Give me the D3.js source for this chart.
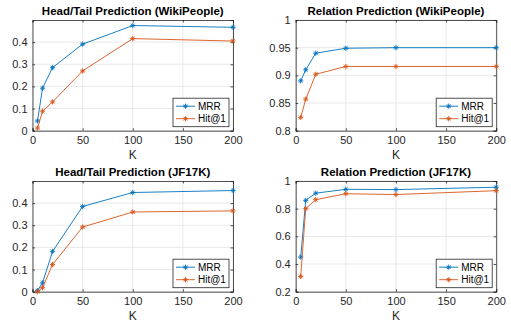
<!DOCTYPE html>
<html>
<head>
<meta charset="utf-8">
<script src="https://cdn.jsdelivr.net/npm/d3@7"></script>
<style>
  body { margin: 0; background: #fff; }
  text { font-family: "Liberation Sans", Arial, sans-serif; }
</style>
</head>
<body>
<script>
const W = 511, H = 322
const blue = '#0072BD', orange = '#D95319'

// data
const kValues = [5, 10, 20, 50, 100, 200]
const seriesNames = ['MRR', 'Hit@1']
const xTicks = [0, 50, 100, 150, 200]

const wpHeadMRR = [0.044, 0.192, 0.285, 0.391, 0.475, 0.467]
const wpHeadHit = [0.012, 0.088, 0.130, 0.270, 0.416, 0.405]
const wpRelMRR = [0.890, 0.910, 0.940, 0.949, 0.950, 0.950]
const wpRelHit = [0.824, 0.857, 0.902, 0.916, 0.916, 0.916]
const jfHeadMRR = [0.005, 0.040, 0.182, 0.385, 0.448, 0.457]
const jfHeadHit = [0.000, 0.018, 0.123, 0.292, 0.360, 0.365]
const jfRelMRR = [0.450, 0.860, 0.912, 0.940, 0.938, 0.955]
const jfRelHit = [0.310, 0.800, 0.865, 0.908, 0.902, 0.930]

const panels = [
  {title: 'Head/Tail Prediction (WikiPeople)', x0: 32.5, y0: 20, ydom: [0, 0.5], yticks: [0, 0.1, 0.2, 0.3, 0.4], mrr: wpHeadMRR, hit: wpHeadHit},
  {title: 'Relation Prediction (WikiPeople)', x0: 295.7, y0: 20, ydom: [0.8, 1], yticks: [0.8, 0.85, 0.9, 0.95, 1], mrr: wpRelMRR, hit: wpRelHit},
  {title: 'Head/Tail Prediction (JF17K)', x0: 32.5, y0: 181, ydom: [0, 0.5], yticks: [0, 0.1, 0.2, 0.3, 0.4], mrr: jfHeadMRR, hit: jfHeadHit},
  {title: 'Relation Prediction (JF17K)', x0: 295.7, y0: 181, ydom: [0.2, 1], yticks: [0.2, 0.4, 0.6, 0.8, 1], mrr: jfRelMRR, hit: jfRelHit}
]
const pw = 200.5, ph = 110.7

const svg = d3.select('body').append('svg').attr('width', W).attr('height', H)

function star(g, cx, cy, col) {
  const r = 2.6
  for (let a = 0; a < 180; a += 45) {
    const t = a * Math.PI / 180
    g.append('line')
      .attr('x1', cx - r * Math.cos(t)).attr('y1', cy - r * Math.sin(t))
      .attr('x2', cx + r * Math.cos(t)).attr('y2', cy + r * Math.sin(t))
      .attr('stroke', col).attr('stroke-width', 0.9)
  }
}

panels.forEach(p => {
  const g = svg.append('g').attr('transform', `translate(${p.x0},${p.y0})`)
  const x = d3.scaleLinear().domain([0, 200]).range([0, pw])
  const y = d3.scaleLinear().domain(p.ydom).range([ph, 0])

  // grid
  g.selectAll('.gx').data(xTicks).enter().append('line')
    .attr('x1', d => x(d)).attr('x2', d => x(d)).attr('y1', 0).attr('y2', ph)
    .attr('stroke', '#e3e3e3').attr('stroke-width', 0.8)
  g.selectAll('.gy').data(p.yticks).enter().append('line')
    .attr('y1', d => y(d)).attr('y2', d => y(d)).attr('x1', 0).attr('x2', pw)
    .attr('stroke', '#e3e3e3').attr('stroke-width', 0.8)

  // axes
  const fmt = d => d3.format('~g')(d)
  g.append('g').attr('transform', `translate(0,${ph})`)
    .call(d3.axisBottom(x).tickValues(xTicks).tickSize(-2.5).tickPadding(6).tickFormat(fmt))
  g.append('g')
    .call(d3.axisLeft(y).tickValues(p.yticks).tickSize(-2.5).tickPadding(5).tickFormat(fmt))
  g.append('g').attr('transform', `translate(${pw},0)`)
    .call(d3.axisRight(y).tickValues(p.yticks).tickSize(-2.5).tickFormat(''))
  g.append('g')
    .call(d3.axisTop(x).tickValues(xTicks).tickSize(-2.5).tickFormat(''))
  g.selectAll('.domain').attr('stroke', '#262626').attr('stroke-width', 0.8)
  g.selectAll('.tick line').attr('stroke', '#262626').attr('stroke-width', 0.8)
  g.selectAll('.tick text').attr('fill', '#262626').style('font-size', '11px')

  // lines
  const line = d3.line().x((d, i) => x(kValues[i])).y(d => y(d))
  ;[[p.mrr, blue], [p.hit, orange]].forEach(([vals, col]) => {
    g.append('path').datum(vals).attr('d', line)
      .attr('fill', 'none').attr('stroke', col).attr('stroke-width', 0.9)
    vals.forEach((v, i) => star(g, x(kValues[i]), y(v), col))
  })

  // title & label
  g.append('text').attr('x', pw / 2).attr('y', -5).attr('text-anchor', 'middle')
    .style('font-size', '11.5px').style('font-weight', 'bold').attr('fill', '#000').text(p.title)
  g.append('text').attr('x', pw / 2).attr('y', ph + 28).attr('text-anchor', 'middle')
    .style('font-size', '12px').attr('fill', '#262626').text('K')

  // legend
  const lg = g.append('g').attr('transform', `translate(${pw - 60},${ph - 32.5})`)
  lg.append('rect').attr('width', 56).attr('height', 28.5)
    .attr('fill', '#fff').attr('stroke', '#262626').attr('stroke-width', 0.8)
  seriesNames.forEach((n, i) => {
    const col = i === 0 ? blue : orange
    const yy = 8 + i * 12.5
    lg.append('line').attr('x1', 3).attr('x2', 22).attr('y1', yy).attr('y2', yy)
      .attr('stroke', col).attr('stroke-width', 0.9)
    star(lg, 12.5, yy, col)
    lg.append('text').attr('x', 25).attr('y', yy + 3.5)
      .style('font-size', '10px').attr('fill', '#000').text(n)
  })
})
</script>
</body>
</html>
